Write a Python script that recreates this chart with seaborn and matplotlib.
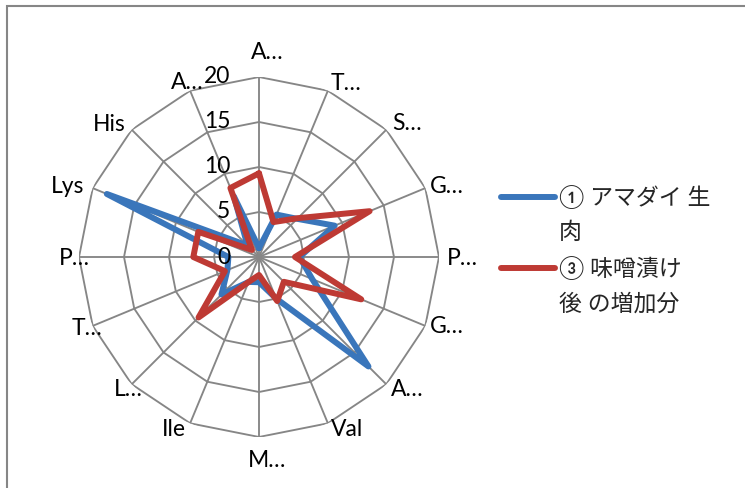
import numpy as np
import pandas as pd
import matplotlib
matplotlib.use("Agg")
import matplotlib.pyplot as plt
import matplotlib.transforms as mtransforms
from matplotlib.lines import Line2D
from matplotlib.patches import Rectangle
import seaborn as sns

# ---------------- data ----------------
categories = ["Asp", "Thr", "Ser", "Glu", "Pro", "Gly", "Ala", "Val",
              "Met", "Ile", "Leu", "Tyr", "Phe", "Lys", "His", "Arg"]
tick_labels = ["A…", "T…", "S…", "G…", "P…", "G…", "A…", "Val",
               "M…", "Ile", "L…", "T…", "P…", "Lys", "His", "A…"]
raw_meat = [1.0, 5.1, 6.0, 9.1, 4.5, 6.4, 17.2, 5.0,
            2.8, 3.0, 5.9, 3.8, 3.4, 18.3, 1.8, 7.3]
miso_increase = [9.3, 4.2, 6.1, 13.3, 4.0, 12.3, 3.9, 5.3,
                 2.0, 3.0, 9.5, 4.1, 7.3, 7.3, 1.1, 8.3]
series_names = ["① アマダイ 生肉", "③ 味噌漬け後 の増加分"]
legend_text = [["① アマダイ 生", "肉"], ["③ 味噌漬け", "後 の増加分"]]
r_ticks = [0, 5, 10, 15, 20]

# ---------------- style ----------------
sns.set_theme(style="white")
plt.rcParams["font.family"] = ["Lato", "Noto Sans CJK JP", "DejaVu Sans"]
blue = "#3A76BB"
red = "#BE3A34"
grid_color = "#868686"

W, H = 745, 488
fig = plt.figure(figsize=(W / 100, H / 100), dpi=100)
fig.patch.set_facecolor("white")

# chart area border (only top/left visible)
fig.add_artist(Rectangle((7.5 / W, -0.2), 2.0, 1.2 - 6 / H, transform=fig.transFigure,
                         fill=False, edgecolor=grid_color, linewidth=1.5))

# polar axes: centre (259,257) px, radius 180 px
cx, cy, R = 259, 257, 180
ax = fig.add_axes([(cx - R) / W, (H - cy - R) / H, 2 * R / W, 2 * R / H],
                  projection="polar")
ax.set_theta_zero_location("N")
ax.set_theta_direction(-1)
ax.patch.set_alpha(0)

n = len(categories)
theta = np.linspace(0, 2 * np.pi, n, endpoint=False)
theta_closed = np.append(theta, 2 * np.pi)

# polygon grid + spokes
for rv in r_ticks[1:]:
    ax.plot(theta_closed, [rv] * (n + 1), color=grid_color, lw=1.35, zorder=1)
for t in theta:
    ax.plot([t, t], [0, r_ticks[-1]], color=grid_color, lw=1.35, zorder=1)

# series
rows = []
for name, vals in zip(series_names, [raw_meat, miso_increase]):
    closed = list(vals) + [vals[0]]
    for i, (t, v) in enumerate(zip(theta_closed, closed)):
        rows.append({"series": name, "theta": t, "value": v, "order": i})
df = pd.DataFrame(rows)
sns.lineplot(data=df, x="theta", y="value", hue="series", hue_order=series_names,
             palette=[blue, red], sort=False, estimator=None, units="series",
             linewidth=4.3, legend=False, ax=ax, zorder=3,
             solid_joinstyle="round", solid_capstyle="round")

ax.set_ylim(0, r_ticks[-1])
ax.set_xticks([])
ax.set_yticks([])
ax.grid(False)
ax.spines["polar"].set_visible(False)
ax.set_xlabel("")
ax.set_ylabel("")

# radial value labels (left of vertical axis)
off = mtransforms.offset_copy(ax.transData, fig=fig, x=-20.5, y=0, units="points")
for rv in r_ticks:
    ax.text(0, rv, str(rv), transform=off, ha="right", va="center",
            fontsize=16.5, color="black", zorder=5)

# category labels (axes-fraction positions as laid out in the original)
label_pos = [(0.523, 1.068), (0.741, 0.983), (0.910, 0.871), (1.022, 0.697),
             (1.064, 0.497), (1.022, 0.308), (0.912, 0.131), (0.745, 0.022),
             (0.523, -0.066), (0.264, 0.022), (0.137, 0.131), (0.023, 0.302),
             (-0.014, 0.497), (-0.031, 0.697), (0.083, 0.869), (0.301, 0.985)]
for lab, (px, py) in zip(tick_labels, label_pos):
    ax.text(px, py, lab, transform=ax.transAxes, ha="center", va="center",
            fontsize=16.5, color="black")

# legend (manual, Excel-like wrapped entries)
line_x0, line_x1, text_x = 501, 555, 559
entry_y = [197, 268]
line_gap = 35.5
for (l1, l2), y, col in zip(legend_text, entry_y, [blue, red]):
    fig.add_artist(Line2D([line_x0 / W, line_x1 / W], [1 - y / H, 1 - y / H],
                          transform=fig.transFigure, color=col, lw=4.3,
                          solid_capstyle="round"))
    fig.text(text_x / W, 1 - y / H, l1, ha="left", va="center", fontsize=16.5)
    fig.text(text_x / W, 1 - (y + line_gap) / H, l2, ha="left", va="center", fontsize=16.5)

fig.savefig("out.png", dpi=100)
